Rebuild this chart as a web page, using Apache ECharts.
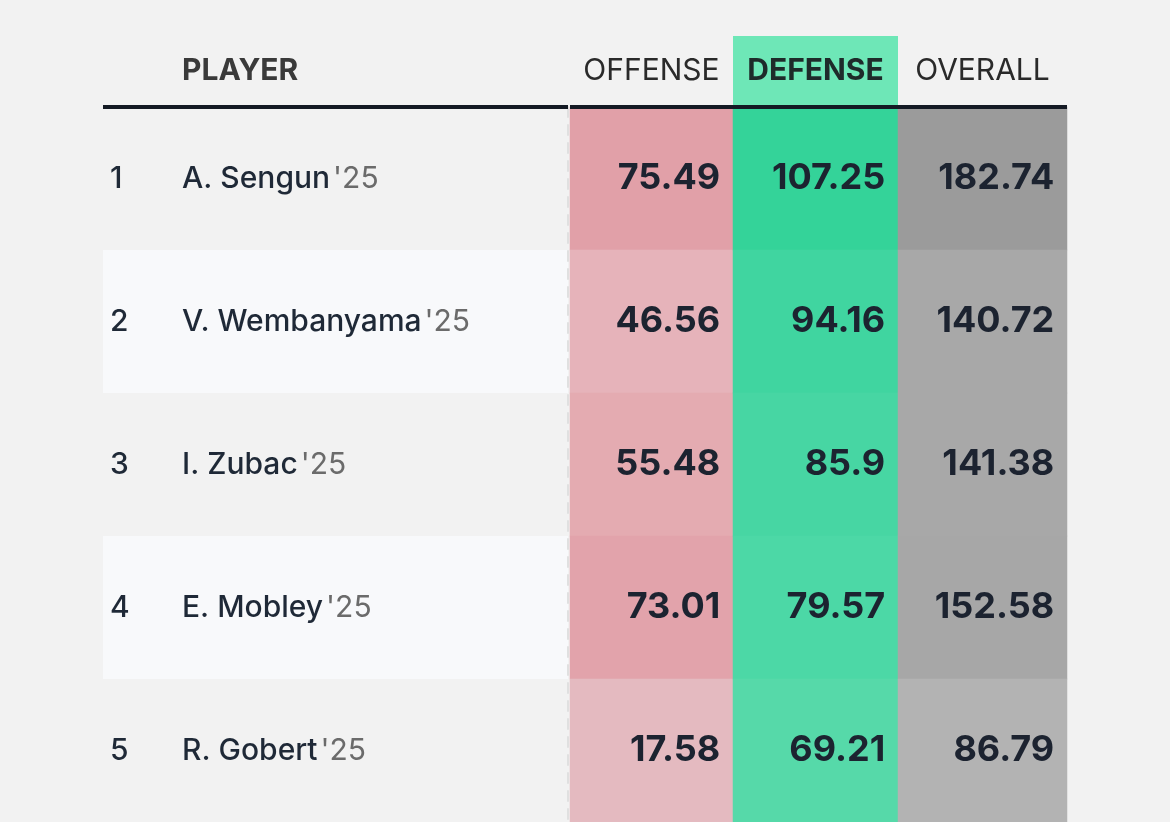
<!DOCTYPE html>
<html>
<head>
<meta charset="utf-8">
<script src="https://cdn.jsdelivr.net/npm/echarts@6/dist/echarts.min.js"></script>
<style>
  html, body { margin: 0; padding: 0; background: #f2f2f2; }
  #chart { width: 1170px; height: 822px; }
</style>
</head>
<body>
<div id="chart"></div>
<script>
// ── data ──────────────────────────────────────────────
const ranks = [1, 2, 3, 4, 5];
const players = ["A. Sengun", "V. Wembanyama", "I. Zubac", "E. Mobley", "R. Gobert"];
const season = "'25";
const columns = ["OFFENSE", "DEFENSE", "OVERALL"];
const offense = [75.49, 46.56, 55.48, 73.01, 17.58];
const defense = [107.25, 94.16, 85.9, 79.57, 69.21];
const overall = [182.74, 140.72, 141.38, 152.58, 86.79];

// ── layout / styles ───────────────────────────────────
const FONT = "Inter, 'Noto Sans', sans-serif";
const TOP = 107, ROW_H = 144;
const playerCol = { left: 103, width: 465 };
const statCols = [
    { left: 570, width: 163,
      colors: ["#e4bac0", "#e4b9bf", "#e5b7bd", "#e5b5bc", "#e6b3ba", "#e4abb1", "#e3a9b0", "#e4a8b0", "#e1a0a8"] },
    { left: 733, width: 165, colors: ["#56d9a9", "#4dd8a6", "#45d6a2", "#3dd49e", "#34d399"], highlight: "#6ee7b7" },
    { left: 898, width: 169, colors: ["#b3b3b3", "#acacac", "#a9a9a9", "#a6a6a6", "#9b9b9b"] },
];
const statData = [offense, defense, overall];

function gridOf(c) {
    return { left: c.left, width: c.width, top: TOP, height: ROW_H * players.length };
}

var grids = [gridOf(playerCol)].concat(statCols.map(gridOf));

var headerLine = { show: true, lineStyle: { color: "#141a24", width: 4, cap: "butt" } };

var xAxes = [{
    type: "category", gridIndex: 0, position: "top", data: ["PLAYER"], z: 10,
    axisLine: headerLine, axisTick: { show: false },
    axisLabel: {
        margin: 21, width: playerCol.width, overflow: "none",
        formatter: function(v) { return "{pad|}{p|" + v + "}"; },
        rich: {
            pad: { width: 79, align: "left" },
            p: { align: "left", fontFamily: FONT, fontSize: 30, lineHeight: 30,
                 fontWeight: "bold", color: "#3a3a3a" },
        },
    },
}];
statCols.forEach(function(c, k) {
    var lbl = c.highlight ? {
        margin: 2,
        formatter: function(v) { return "{h|" + v + "}"; },
        rich: { h: { width: c.width, height: 69, lineHeight: 69, align: "center",
                     backgroundColor: c.highlight, fontFamily: FONT, fontSize: 30,
                     fontWeight: "bold", color: "#1e2b2a" } },
    } : {
        margin: 21, fontFamily: FONT, fontSize: 30, lineHeight: 30, color: "#2a2a2a",
    };
    xAxes.push({
        type: "category", gridIndex: k + 1, position: "top", data: [columns[k]], z: 10,
        axisLine: headerLine, axisTick: { show: false }, axisLabel: lbl,
    });
});

var yAxes = [{
    type: "category", gridIndex: 0, data: players, inverse: true,
    axisLine: { show: false }, axisTick: { show: false },
    splitArea: { show: true, areaStyle: { color: ["#f2f2f2", "#f8f9fb"] } },
    axisLabel: {
        inside: true, margin: 7,
        formatter: function(v, i) { return "{r|" + ranks[i] + "}{n|" + v + "}{s|" + season + "}"; },
        rich: {
            r: { width: 72, fontFamily: FONT, fontSize: 30, fontWeight: 500, color: "#1f2937" },
            n: { fontFamily: FONT, fontSize: 30, fontWeight: 500, color: "#1f2937", padding: [0, 3, 0, 0] },
            s: { fontFamily: FONT, fontSize: 30, color: "#6b6b6b" },
        },
    },
}];
statCols.forEach(function(c, k) {
    yAxes.push({
        type: "category", gridIndex: k + 1, data: players, inverse: true,
        offset: k === 0 ? 2 : 0,
        axisLine: { show: k === 0, lineStyle: { color: "#e0e0e0", width: 2, type: [10, 8] } },
        axisTick: { show: false }, axisLabel: { show: false },
    });
});

var series = statCols.map(function(c, k) {
    return {
        type: "heatmap", xAxisIndex: k + 1, yAxisIndex: k + 1,
        data: statData[k].map(function(v, i) { return [0, i, v]; }),
        label: {
            show: true, position: "insideRight", distance: 13,
            formatter: function(p) { return String(p.value[2]); },
            fontFamily: FONT, fontSize: 36, fontWeight: "bold", color: "#1c2330",
        },
        emphasis: { disabled: true },
    };
});

var visualMaps = statCols.map(function(c, k) {
    return {
        type: "continuous", show: false, seriesIndex: k, dimension: 2,
        min: Math.min.apply(null, statData[k]), max: Math.max.apply(null, statData[k]),
        inRange: { color: c.colors },
    };
});

var chart = echarts.init(document.getElementById("chart"));
chart.setOption({
    backgroundColor: "#f2f2f2",
    animation: false,
    grid: grids,
    xAxis: xAxes,
    yAxis: yAxes,
    visualMap: visualMaps,
    series: series,
});
</script>
</body>
</html>
